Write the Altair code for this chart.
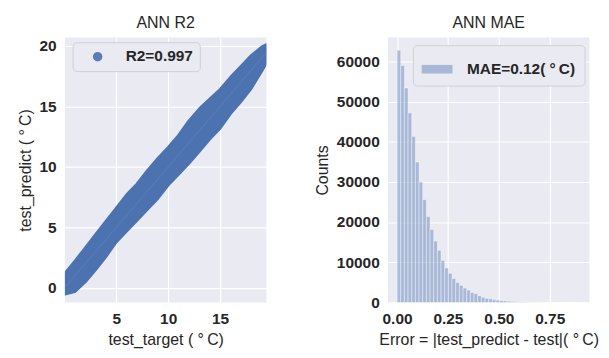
import altair as alt
import pandas as pd

# ---------------- left panel: dense scatter band (edges) ----
target_x   = [0.05, 1.0, 2.0, 3.0, 4.0, 5.0, 6.0, 7.0, 8.0, 9.0, 10.0, 11.0, 12.0, 13.0, 14.0, 15.0, 16.0, 17.0, 18.0, 19.0, 19.46]
predict_hi = [1.2, 2.2, 3.3, 4.4, 5.5, 6.6, 7.7, 8.6, 9.7, 10.7, 11.6, 12.6, 13.8, 14.8, 15.6, 16.4, 17.4, 18.3, 19.2, 19.9, 20.1]
predict_lo = [-0.5, -0.3, 0.5, 1.5, 2.6, 3.8, 4.7, 5.6, 6.5, 7.4, 8.5, 9.4, 10.3, 11.3, 12.3, 13.2, 14.4, 15.4, 16.5, 17.9, 18.6]
diag_x     = [0.05, 19.46]
r2_label   = "R2=0.997"

# ---------------- right panel: histogram of absolute errors ------------------
counts = [62800, 59000, 53400, 47200, 41300, 35000, 30000, 25600, 21400, 18200,
          15300, 13000, 10500, 8600, 7300, 6000, 5000, 4300, 3600, 3100,
          2500, 2200, 1700, 1300, 1050, 950, 750, 600, 500, 420,
          330, 270, 210, 170, 130, 100, 80, 60, 45, 35,
          25, 20, 15, 10, 8, 6, 4, 3, 2, 1]
bin_width = 0.018
mae_label = "MAE=0.12( °\u2009C)"

FONT = "Liberation Sans"
TXT = "#262626"
BLUE = "#4C72B0"

band_df = pd.DataFrame({"x": target_x, "hi": predict_hi, "lo": predict_lo, "label": r2_label})
diag_df = pd.DataFrame({"x": diag_x, "y": diag_x})

xs = alt.Scale(domain=[0.05, 19.46], nice=False, zero=False)
ys = alt.Scale(domain=[-1.2, 20.7], nice=False, zero=False)

band = alt.Chart(band_df).mark_area(
    clip=True, stroke=BLUE, strokeWidth=3, strokeJoin="round", opacity=1
).encode(
    x=alt.X("x:Q", scale=xs, axis=alt.Axis(values=[5, 10, 15], title="test_target ( °\u2009C)")),
    y=alt.Y("hi:Q", scale=ys, axis=alt.Axis(values=[0, 5, 10, 15, 20], title="test_predict ( °\u2009C)")),
    y2="lo:Q",
    color=alt.Color("label:N", scale=alt.Scale(domain=[r2_label], range=[BLUE]),
                    legend=alt.Legend(title=None, orient="none", legendX=8, legendY=5,
                                      fillColor="#EAEAF2", strokeColor="#CFCFD6",
                                      cornerRadius=4, padding=7, symbolType="circle",
                                      symbolSize=70, symbolOffset=11, labelOffset=21,
                                      labelFontSize=16, labelFontWeight="bold",
                                      labelFont=FONT, labelColor=TXT, symbolOpacity=0.9)),
)

diag = alt.Chart(diag_df).mark_line(clip=True, color="#6A8CC6", strokeWidth=0.8, opacity=0.6).encode(
    x=alt.X("x:Q", scale=xs), y=alt.Y("y:Q", scale=ys)
)

left = alt.layer(band, diag).properties(
    width=209, height=275,
    title=alt.TitleParams("ANN R2", fontSize=16.5, fontWeight="normal", font=FONT, color=TXT, offset=6),
)

hist_df = pd.DataFrame({
    "start": [i * bin_width for i in range(len(counts))],
    "end": [(i + 1) * bin_width for i in range(len(counts))],
    "count": counts,
    "label": mae_label,
})

bars = alt.Chart(hist_df).mark_bar(
    fillOpacity=0.42, stroke="white", strokeWidth=0.6, strokeOpacity=0.7
).encode(
    x=alt.X("start:Q", scale=alt.Scale(domain=[-0.045, 0.945], nice=False, zero=False),
            axis=alt.Axis(values=[0, 0.25, 0.5, 0.75], format=".2f",
                          title="Error = |test_predict - test|( °\u2009C)")),
    x2="end:Q",
    y=alt.Y("count:Q", scale=alt.Scale(domain=[0, 66000], nice=False),
            axis=alt.Axis(values=[0, 10000, 20000, 30000, 40000, 50000, 60000], format="d", title="Counts")),
    y2=alt.datum(0),
    color=alt.Color("label:N", scale=alt.Scale(domain=[mae_label], range=[BLUE]),
                    legend=alt.Legend(title=None, orient="none", legendX=26, legendY=8,
                                      fillColor="#EAEAF2", strokeColor="#CFCFD6",
                                      cornerRadius=4, padding=9,
                                      symbolType="M-1,-0.28H1V0.28H-1Z", symbolSize=1024,
                                      symbolOpacity=0.42, symbolStrokeWidth=0,
                                      labelOffset=15,
                                      labelFontSize=16, labelFontWeight="bold",
                                      labelFont=FONT, labelColor=TXT)),
).properties(
    width=209, height=275,
    title=alt.TitleParams("ANN MAE", fontSize=16.5, fontWeight="normal", font=FONT, color=TXT, offset=6),
)

chart = alt.hconcat(left, bars, spacing=50).resolve_scale(color="independent").resolve_legend(
    color="independent"
).properties(
    padding={"left": 10, "top": 1, "right": 2, "bottom": 2},
    background="white",
).configure_view(
    fill="#EAEAF2", stroke=None
).configure_axis(
    domain=False, ticks=False, grid=True, gridColor="white", gridWidth=1.2,
    labelFont=FONT, labelFontSize=16, labelFontWeight="bold", labelColor=TXT, labelPadding=9,
    titleFont=FONT, titleFontSize=16.5, titleFontWeight="normal", titleColor=TXT, titlePadding=6,
)

chart.save("out.html", embed_options={"renderer": "svg", "actions": False})
